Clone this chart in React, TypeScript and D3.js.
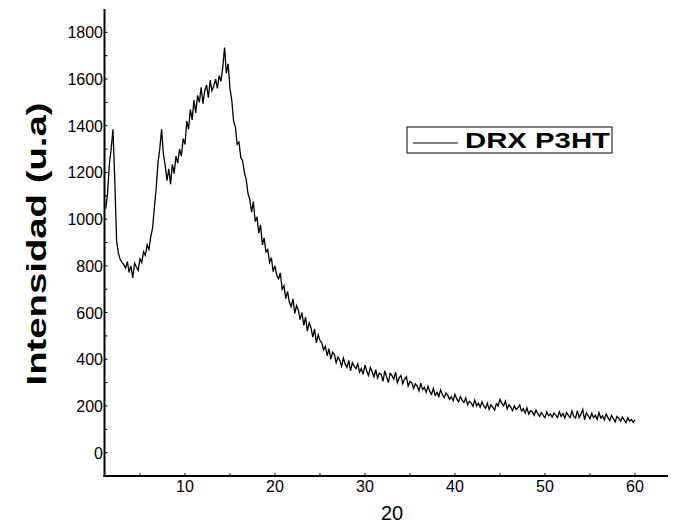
import React from "react";
import * as d3 from "d3";

const xStart = 1.2;
const xStep = 0.2;
const intensity = [
  1045, 1110, 1235, 1300, 1385, 1170, 910, 855, 828, 815,
  805, 790, 818, 772, 800, 748, 812, 795, 780, 830,
  815, 860, 845, 890, 870, 925, 960, 1050, 1130, 1240,
  1300, 1385, 1280, 1230, 1165, 1215, 1150, 1235, 1195, 1270,
  1240, 1300, 1270, 1345, 1320, 1420, 1385, 1470, 1425, 1510,
  1455, 1530, 1500, 1565, 1495, 1550, 1575, 1520, 1595, 1550,
  1570, 1600, 1560, 1615, 1590, 1650, 1735, 1625, 1665, 1560,
  1510, 1420, 1395, 1320, 1330, 1265, 1250, 1200, 1170, 1110,
  1085, 1030, 1075, 990, 1010, 940, 975, 890, 920, 860,
  870, 815, 835, 775, 800, 760, 745, 770, 700, 715,
  660, 690, 645, 625, 660, 595, 630, 610, 570, 600,
  545, 580, 520, 555, 535, 495, 530, 470, 505, 480,
  470, 440, 455, 415, 445, 400, 430, 420, 385, 410,
  395, 370, 405, 380, 365, 395, 350, 385, 370, 360,
  380, 345, 360, 335, 375, 350, 330, 365, 345, 325,
  355, 320, 340, 335, 305, 350, 325, 300, 340, 330,
  315, 345, 300, 320, 330, 295, 315, 325, 285, 305,
  300, 275, 295, 285, 265, 298, 270, 280, 258, 285,
  262, 250, 275, 245, 258, 240, 268, 250, 235, 255,
  245, 228, 240, 222, 250, 230, 218, 240, 225, 215,
  235, 205, 220, 212, 198, 225, 200, 212, 195, 218,
  200, 190, 212, 185, 205, 195, 182, 210, 200, 228,
  212, 200, 220, 188, 205, 195, 180, 200, 185, 192,
  205, 178, 188, 170, 192, 165, 180, 175, 160, 182,
  168, 155, 172, 160, 150, 175, 158, 165, 152, 170,
  160, 150, 175, 155, 168, 148, 172, 160, 150, 178,
  155, 148, 180, 150, 165, 185, 140, 170, 158, 145,
  168, 150, 160, 142, 172, 148, 158, 140, 165, 150,
  138, 160, 145, 132, 155, 148, 135, 152, 140, 128,
  150, 135, 142, 130, 140,
];
const xTicks = [10, 20, 30, 40, 50, 60];
const yTicks = [0, 200, 400, 600, 800, 1000, 1200, 1400, 1600, 1800];
const seriesName = "DRX P3HT";
const xTitle = "20";
const yTitle = "Intensidad (u.a)";

export default function App() {
  const W = 673, H = 529;
  const left = 104.5, right = 668, top = 9, bottom = 476;
  const x = d3.scaleLinear().domain([1.06, 63.67]).range([left, right]);
  const y = d3.scaleLinear().domain([-100, 1900]).range([bottom, top]);
  const pts = intensity.map((v, i) => [xStart + i * xStep, v] as [number, number]);
  const line = d3.line<[number, number]>().x((d) => x(d[0])).y((d) => y(d[1]));
  const xMinor = d3.range(5, 64, 5);
  const yMinor = d3.range(-100, 1900, 100);
  const font = "'Liberation Sans', Arial, sans-serif";
  return (
    <svg width={W} height={H} style={{ position: "absolute", left: 0, top: 0, background: "#fff" }} fontFamily={font}>
      <path d={line(pts) || ""} fill="none" stroke="#000" strokeWidth={1.3} strokeLinejoin="miter" />
      <line x1={left} x2={left} y1={top} y2={bottom + 1} stroke="#000" strokeWidth={2} />
      <line x1={left - 1} x2={right} y1={bottom} y2={bottom} stroke="#000" strokeWidth={2} />
      {xMinor.map((t) => (
        <line key={"xm" + t} x1={x(t)} x2={x(t)} y1={bottom} y2={bottom - 3} stroke="#000" strokeWidth={1} />
      ))}
      {yMinor.map((t) => (
        <line key={"ym" + t} x1={left} x2={left + 3} y1={y(t)} y2={y(t)} stroke="#000" strokeWidth={1} />
      ))}
      {xTicks.map((t) => (
        <text key={"xt" + t} x={x(t)} y={492} textAnchor="middle" fontSize={16} fill="#000">{t}</text>
      ))}
      {yTicks.map((t) => (
        <text key={"yt" + t} x={103} y={y(t) + 6} textAnchor="end" fontSize={16} fill="#000">{t}</text>
      ))}
      <text x={392} y={520} textAnchor="middle" fontSize={20} fill="#000">{xTitle}</text>
      <text transform={`translate(46,244) rotate(-90)`} textAnchor="middle" fontSize={27} fontWeight="bold" fill="#000" textLength={283} lengthAdjust="spacingAndGlyphs">{yTitle}</text>
      <rect x={407} y={127} width={205} height={26} fill="#fff" stroke="#000" strokeWidth={1} />
      <line x1={413} x2={458} y1={143} y2={143} stroke="#000" strokeWidth={1} />
      <text x={465} y={148} fontSize={22} fontWeight="bold" fill="#000" textLength={145} lengthAdjust="spacingAndGlyphs">{seriesName}</text>
    </svg>
  );
}
